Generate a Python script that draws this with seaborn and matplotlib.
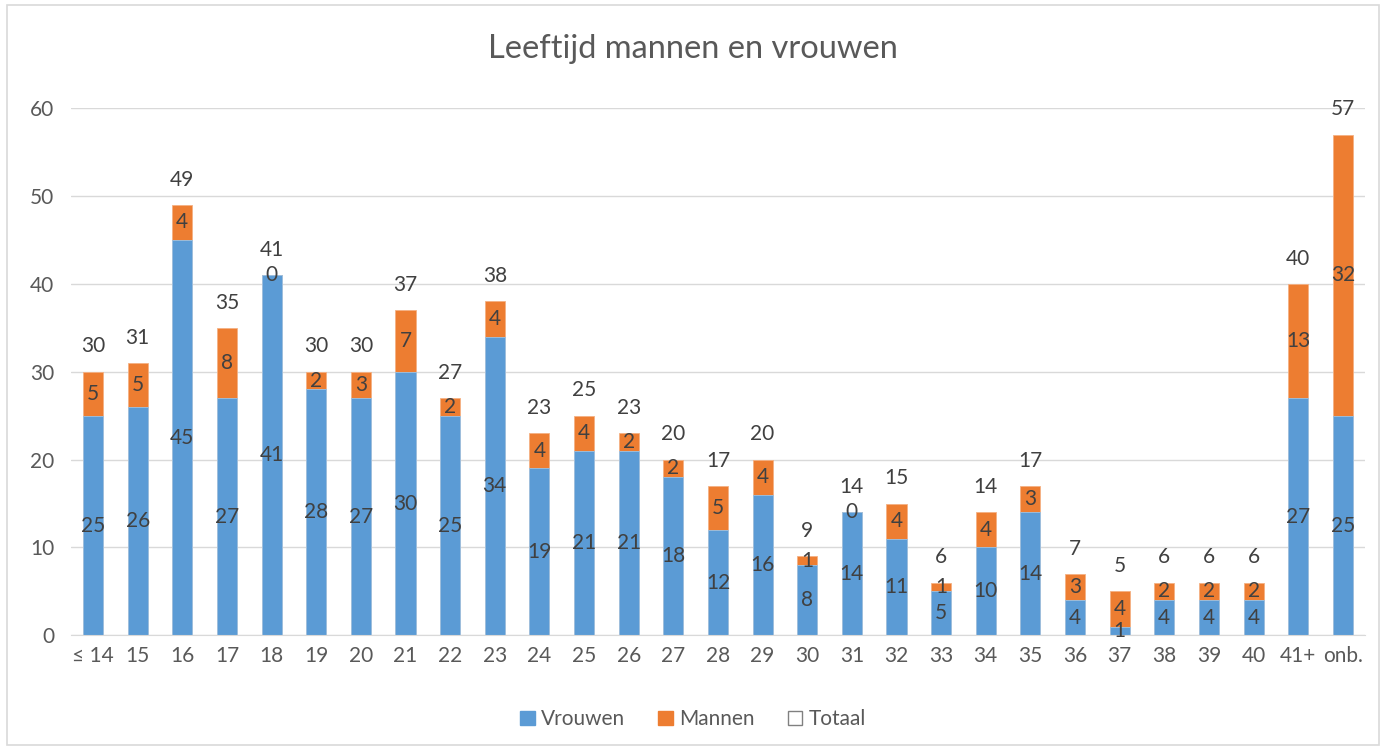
import numpy as np
import pandas as pd
import matplotlib.pyplot as plt
import seaborn as sns
from matplotlib.patches import Patch, Rectangle

categories = ["≤ 14"] + [str(a) for a in range(15, 41)] + ["41+", "onb."]
vrouwen = [25, 26, 45, 27, 41, 28, 27, 30, 25, 34, 19, 21, 21, 18, 12, 16, 8, 14,
           11, 5, 10, 14, 4, 1, 4, 4, 4, 27, 25]
mannen = [5, 5, 4, 8, 0, 2, 3, 7, 2, 4, 4, 4, 2, 2, 5, 4, 1, 0,
          4, 1, 4, 3, 3, 4, 2, 2, 2, 13, 32]
totaal = [30, 31, 49, 35, 41, 30, 30, 37, 27, 38, 23, 25, 23, 20, 17, 20, 9, 14,
          15, 6, 14, 17, 7, 5, 6, 6, 6, 40, 57]

df = pd.DataFrame({"Leeftijd": categories, "Vrouwen": vrouwen,
                   "Mannen": mannen, "Totaal": totaal})

blue = "#5B9BD5"
orange = "#ED7D31"
label_col = "#404040"
tick_col = "#595959"
fs = 15

sns.set_style("white")
plt.rcParams["font.family"] = ["Lato", "DejaVu Sans"]

fig = plt.figure(figsize=(13.86, 7.51), dpi=100)
ax = fig.add_axes([0.051, 0.154, 0.934, 0.702])

# totals drawn in orange, women drawn over them -> stacked look
sns.barplot(data=df, x="Leeftijd", y="Totaal", color=orange, saturation=1,
            width=0.45, ax=ax, order=categories, linewidth=0.6, edgecolor="#F4B183")
tot_cont = ax.containers[0]
sns.barplot(data=df, x="Leeftijd", y="Vrouwen", color=blue, saturation=1,
            width=0.45, ax=ax, order=categories, linewidth=0.6, edgecolor="#9DC3E6")
vr_cont = ax.containers[1]

ax.bar_label(vr_cont, labels=[str(v) for v in vrouwen], label_type="center",
             fontsize=fs, color=label_col)
for p, v, m in zip(tot_cont.patches, vrouwen, mannen):
    ax.text(p.get_x() + p.get_width() / 2, v + m / 2, str(m), ha="center",
            va="center", fontsize=fs, color=label_col)
ax.bar_label(tot_cont, labels=[str(t) for t in totaal], padding=11,
             fontsize=fs, color=label_col)

ax.set_ylim(0, 60)
ax.set_yticks(range(0, 61, 10))
ax.yaxis.grid(True, color="#D9D9D9", linewidth=1)
ax.set_axisbelow(True)
ax.set_xlabel("")
ax.set_ylabel("")
for s in ["top", "right", "left"]:
    ax.spines[s].set_visible(False)
ax.spines["bottom"].set_color("#D9D9D9")
ax.tick_params(axis="both", length=0, labelsize=fs, colors=tick_col, pad=8)
ax.tick_params(axis="y", pad=12)

fig.suptitle("Leeftijd mannen en vrouwen", fontsize=23.5, color=tick_col, y=0.955)

handles = [Patch(facecolor=blue, edgecolor=blue),
           Patch(facecolor=orange, edgecolor=orange),
           Patch(facecolor="white", edgecolor="#808080")]
fig.legend(handles, ["Vrouwen", "Mannen", "Totaal"], loc="center",
           bbox_to_anchor=(0.5, 0.042), ncol=3, frameon=False, fontsize=fs,
           handlelength=0.7, handleheight=0.7, handletextpad=0.3, columnspacing=1.6,
           labelcolor=tick_col)

fig.patches.append(Rectangle((0.005, 0.008), 0.99, 0.985, transform=fig.transFigure,
                             fill=False, edgecolor="#D9D9D9", linewidth=1.2))

fig.savefig("out.png", dpi=100)
